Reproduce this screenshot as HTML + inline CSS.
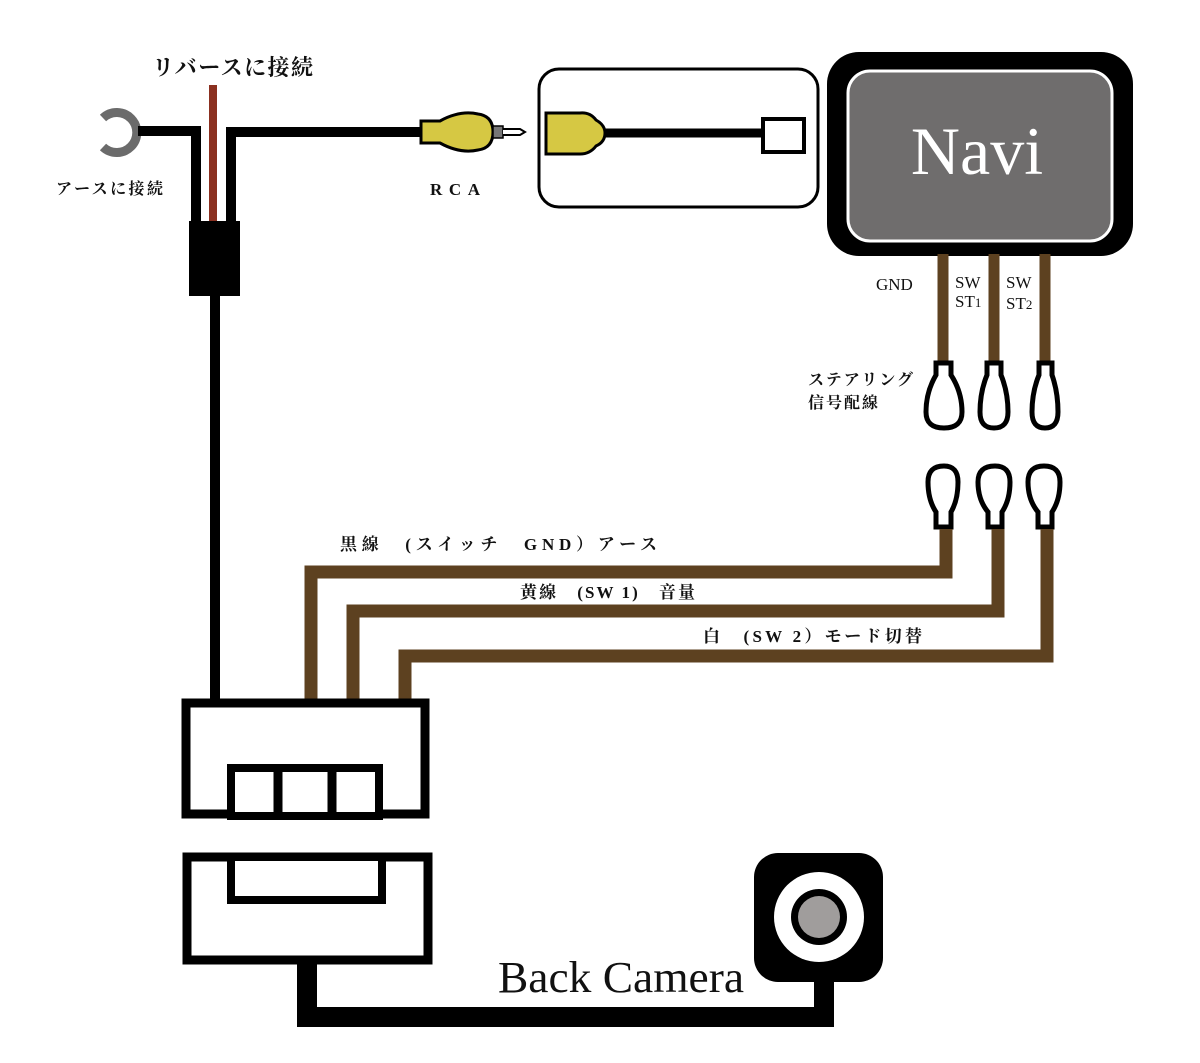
<!DOCTYPE html>
<html><head><meta charset="utf-8"><style>
html,body{margin:0;padding:0;background:#fff;}
svg{display:block}
.jp{font-family:"Liberation Serif","Noto Serif CJK SC","Noto Sans CJK JP",serif;font-weight:bold;fill:#111}
.sf{font-family:"Liberation Serif",serif;fill:#111}
</style></head><body>
<svg width="1200" height="1063" viewBox="0 0 1200 1063" xmlns="http://www.w3.org/2000/svg">
<rect width="1200" height="1063" fill="#fff"/>
<path d="M103,118 A20,20 0 1 1 103,147" fill="none" stroke="#6b6b6b" stroke-width="9"/>
<path d="M138,131 H196 V224" fill="none" stroke="#000" stroke-width="10"/>
<line x1="213" y1="85" x2="213" y2="224" stroke="#8b3020" stroke-width="8"/>
<path d="M231,224 V132 H425" fill="none" stroke="#000" stroke-width="10"/>
<rect x="189" y="221" width="51" height="75" fill="#000"/>
<line x1="215" y1="295" x2="215" y2="702" stroke="#000" stroke-width="10"/>
<path d="M421,121 L440,121 Q460,110 478,114 Q493,116 493,132 Q493,148 478,150 Q460,154 440,143 L421,143 Z" fill="#d6c843" stroke="#000" stroke-width="3"/>
<rect x="493" y="126" width="10" height="12" fill="#777" stroke="#000" stroke-width="1.5"/>
<path d="M503,129 H520 L525,132 L520,135 H503" fill="#fff" stroke="#000" stroke-width="2"/>
<text x="430" y="195" class="sf" font-size="17" font-weight="bold" textLength="50">RCA</text>
<rect x="539" y="69" width="279" height="138" rx="20" fill="#fff" stroke="#000" stroke-width="3"/>
<path d="M546,113 H580 Q590,112 596,120 Q605,125 605,133 Q605,142 596,146 Q590,154 580,154 H546 Z" fill="#d6c843" stroke="#000" stroke-width="3"/>
<line x1="604" y1="133" x2="765" y2="133" stroke="#000" stroke-width="9"/>
<rect x="763" y="119" width="41" height="33" fill="#fff" stroke="#000" stroke-width="4"/>
<text x="152" y="75" class="jp" font-size="22" textLength="161">リバースに接続</text>
<text x="56" y="194" class="jp" font-size="16" textLength="107">アースに接続</text>
<rect x="827" y="52" width="306" height="204" rx="32" fill="#000"/>
<rect x="848" y="71" width="264" height="170" rx="22" fill="#6f6d6d" stroke="#fff" stroke-width="3"/>
<text x="977" y="174" class="sf" font-size="68" style="fill:#fff" text-anchor="middle">Navi</text>
<g stroke="#5d4120" stroke-width="11">
<line x1="943" y1="254" x2="943" y2="362"/>
<line x1="994" y1="254" x2="994" y2="362"/>
<line x1="1045" y1="254" x2="1045" y2="362"/>
</g>
<text x="876" y="290" class="sf" font-size="17">GND</text>
<text x="955" y="288" class="sf" font-size="17">SW</text>
<text x="955" y="307" class="sf" font-size="17">ST<tspan font-size="13">1</tspan></text>
<text x="1006" y="288" class="sf" font-size="17">SW</text>
<text x="1006" y="309" class="sf" font-size="17">ST<tspan font-size="13">2</tspan></text>
<text x="808" y="385" class="jp" font-size="16" textLength="105">ステアリング</text>
<text x="808" y="408" class="jp" font-size="16" textLength="70">信号配線</text>
<g fill="#fff" stroke="#000" stroke-width="5">
<path d="M936,363 H951 V375 Q962,392 962,412 Q962,428 944,428 Q926,428 926,412 Q926,392 936,375 Z"/>
<path d="M987,363 H1001 V375 Q1008,392 1008,412 Q1008,428 994,428 Q980,428 980,412 Q980,392 987,375 Z"/>
<path d="M1039,363 H1052 V375 Q1058,392 1058,412 Q1058,428 1045,428 Q1032,428 1032,412 Q1032,392 1039,375 Z"/>
</g>
<g fill="#fff" stroke="#000" stroke-width="5">
<path d="M936,527 H951 V512 Q958,500 958,482 Q958,466 944,466 Q928,466 928,482 Q928,500 936,512 Z"/>
<path d="M988,527 H1002 V512 Q1010,500 1010,482 Q1010,466 995,466 Q978,466 978,482 Q978,500 988,512 Z"/>
<path d="M1038,527 H1052 V512 Q1060,500 1060,482 Q1060,466 1044,466 Q1028,466 1028,482 Q1028,500 1038,512 Z"/>
</g>
<g fill="none" stroke="#5d4120" stroke-width="13">
<path d="M946,529 V572 H311 V702"/>
<path d="M998,529 V611 H353 V702"/>
<path d="M1047,529 V656 H405 V702"/>
</g>
<text x="340" y="550" class="jp" font-size="17" textLength="317">黒線　(スイッチ　GND）アース</text>
<text x="520" y="598" class="jp" font-size="17" textLength="175">黄線　(SW 1)　音量</text>
<text x="703" y="642" class="jp" font-size="17" textLength="219">白　(SW 2）モード切替</text>
<rect x="186" y="703" width="239" height="111" fill="#fff" stroke="#000" stroke-width="9"/>
<rect x="231" y="768" width="148" height="48" fill="#fff" stroke="#000" stroke-width="8"/>
<line x1="278" y1="768" x2="278" y2="816" stroke="#000" stroke-width="9"/>
<line x1="332" y1="768" x2="332" y2="816" stroke="#000" stroke-width="9"/>
<rect x="187" y="857" width="241" height="103" fill="#fff" stroke="#000" stroke-width="9"/>
<rect x="231" y="857" width="151" height="43" fill="#fff" stroke="#000" stroke-width="8"/>
<path d="M307,962 V1017 H824 V975" fill="none" stroke="#000" stroke-width="20"/>
<rect x="754" y="853" width="129" height="129" rx="24" fill="#000"/>
<circle cx="819" cy="917" r="45" fill="#fff"/>
<circle cx="819" cy="917" r="28" fill="#000"/>
<circle cx="819" cy="917" r="21" fill="#a09d9c"/>
<text x="498" y="992" class="sf" font-size="44" textLength="246" lengthAdjust="spacingAndGlyphs">Back Camera</text>
</svg>
</body></html>
